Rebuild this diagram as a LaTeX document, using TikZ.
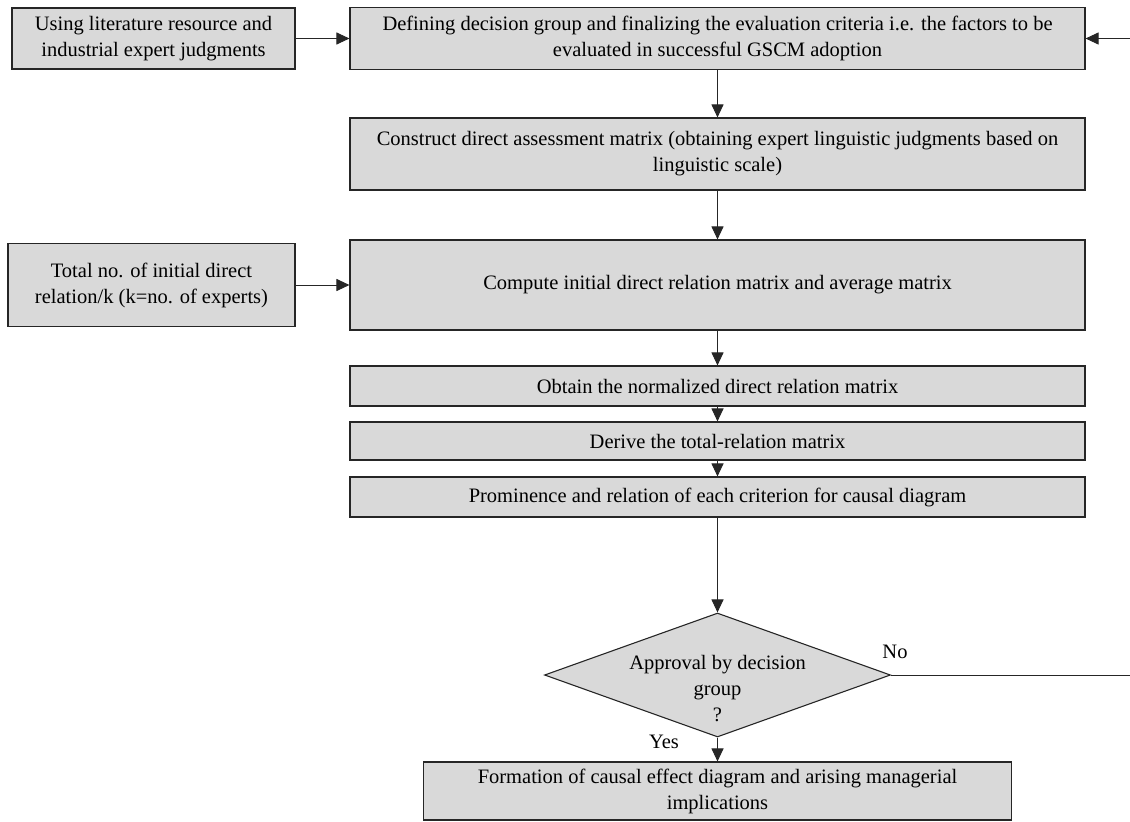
\documentclass[tikz,border=0pt]{standalone}
\usepackage{fontspec}
\setmainfont{Liberation Serif}
\usetikzlibrary{shapes.geometric,arrows.meta}
\definecolor{boxgray}{RGB}{217,217,217}
\begin{document}
\begin{tikzpicture}[x=1pt,y=-1pt,
  font=\fontsize{20.5}{26}\selectfont,
  box/.style={draw=black!85, line width=1.1pt, fill=boxgray, align=center, inner sep=0pt},
  dia/.style={diamond, draw=black!85, line width=1.1pt, fill=boxgray, inner sep=0pt, minimum width=346pt, minimum height=124pt},
  arr/.style={draw=black!85, line width=1pt, -{Triangle[width=12pt,length=13pt]}},
  plain/.style={draw=black!85, line width=1pt},
  lbl/.style={inner sep=0pt}]
\useasboundingbox (0,0) rectangle (1130,822);

\node[box, minimum width=283pt, minimum height=61pt] (l1) at (153.5,38.5) {Using literature resource and\\industrial expert judgments};
\node[box, minimum width=735pt, minimum height=62pt] (t) at (717.5,38.5) {Defining decision group and finalizing the evaluation criteria i.e. the factors to be\\evaluated in successful GSCM adoption};
\node[box, minimum width=735pt, minimum height=72pt] (b2) at (717.5,154) {Construct direct assessment matrix (obtaining expert linguistic judgments based on\\linguistic scale)};
\node[box, minimum width=735pt, minimum height=90pt] (b3) at (717.5,285) {Compute initial direct relation matrix and average matrix};
\node[box, minimum width=287pt, minimum height=83pt] (l2) at (151.5,285) {Total no. of initial direct\\relation/k (k=no. of experts)};
\node[box, minimum width=735pt, minimum height=40pt] (b4) at (717.5,386) {Obtain the normalized direct relation matrix};
\node[box, minimum width=735pt, minimum height=38pt] (b5) at (717.5,441) {Derive the total-relation matrix};
\node[box, minimum width=735pt, minimum height=40pt] (b6) at (717.5,497) {Prominence and relation of each criterion for causal diagram};
\node[dia] (d) at (717.5,675) {};
\node[lbl, align=center] (dtext) at (717.5,689) {Approval by decision\\group\\?};
\node[box, minimum width=588pt, minimum height=58pt] (f) at (717.5,791) {Formation of causal effect diagram and arising managerial\\implications};

\node[lbl] (no) at (895,652) {No};
\node[lbl] (yes) at (664,742) {Yes};

\coordinate (rtop) at (1130,38.5);
\coordinate (rno) at (1130,675);

\draw[arr] (l1.east) -- (t.west);
\draw[arr] (rtop) -- (t.east);
\draw[arr] (t.south) -- (b2.north);
\draw[arr] (b2.south) -- (b3.north);
\draw[arr] (l2.east) -- (b3.west);
\draw[arr] (b3.south) -- (b4.north);
\draw[arr] (b4.south) -- (b5.north);
\draw[arr] (b5.south) -- (b6.north);
\draw[arr] (b6.south) -- (d.north);
\draw[arr] (d.south) -- (f.north);
\draw[plain] (d.east) -- (rno);
\end{tikzpicture}
\end{document}
